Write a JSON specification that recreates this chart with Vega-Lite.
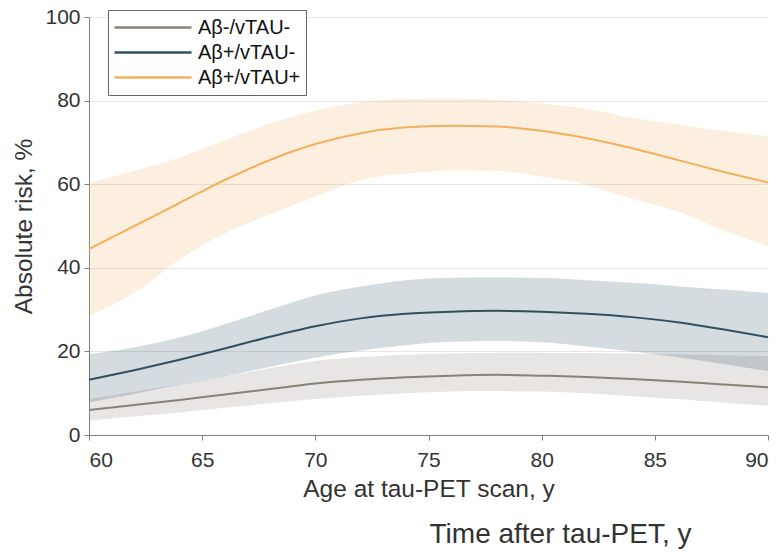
{
  "$schema": "https://vega.github.io/schema/vega-lite/v6.json",
  "width": 679,
  "height": 418,
  "padding": {"left": 11, "top": 6, "right": 0, "bottom": 5},
  "config": {
    "font": "Liberation Sans",
    "view": {"stroke": null},
    "axis": {"labelColor": "#333", "titleColor": "#333", "titleFontWeight": "normal", "labelFontSize": 21, "titleFontSize": 24.5, "domainColor": "#808080", "tickColor": "#808080", "gridColor": "#e6e6e6"}
  },
  "title": {"text": "Time after tau-PET, y", "orient": "bottom", "anchor": "middle", "dx": 132, "offset": 20, "fontSize": 28, "fontWeight": "normal", "color": "#333"},
  "data": {"values": [
    {"age":60,"group":"Aβ-/vTAU-","est":6.0,"lo":3.4,"hi":8.6},
    {"age":62,"group":"Aβ-/vTAU-","est":7.2,"lo":4.4,"hi":10.4},
    {"age":64,"group":"Aβ-/vTAU-","est":8.4,"lo":5.4,"hi":12.1},
    {"age":66,"group":"Aβ-/vTAU-","est":9.7,"lo":6.5,"hi":14.0},
    {"age":68,"group":"Aβ-/vTAU-","est":11.0,"lo":7.6,"hi":16.0},
    {"age":70,"group":"Aβ-/vTAU-","est":12.3,"lo":8.6,"hi":17.7},
    {"age":72,"group":"Aβ-/vTAU-","est":13.2,"lo":9.4,"hi":18.6},
    {"age":74,"group":"Aβ-/vTAU-","est":13.8,"lo":10.0,"hi":19.2},
    {"age":76,"group":"Aβ-/vTAU-","est":14.2,"lo":10.4,"hi":19.5},
    {"age":78,"group":"Aβ-/vTAU-","est":14.4,"lo":10.5,"hi":19.7},
    {"age":80,"group":"Aβ-/vTAU-","est":14.2,"lo":10.4,"hi":19.7},
    {"age":82,"group":"Aβ-/vTAU-","est":13.9,"lo":10.0,"hi":19.6},
    {"age":84,"group":"Aβ-/vTAU-","est":13.4,"lo":9.3,"hi":19.5},
    {"age":86,"group":"Aβ-/vTAU-","est":12.8,"lo":8.6,"hi":19.3},
    {"age":88,"group":"Aβ-/vTAU-","est":12.1,"lo":7.8,"hi":19.1},
    {"age":90,"group":"Aβ-/vTAU-","est":11.4,"lo":7.0,"hi":18.9},
    {"age":60,"group":"Aβ+/vTAU-","est":13.2,"lo":7.8,"hi":19.3},
    {"age":62,"group":"Aβ+/vTAU-","est":15.5,"lo":9.8,"hi":21.0},
    {"age":64,"group":"Aβ+/vTAU-","est":18.0,"lo":12.0,"hi":23.3},
    {"age":66,"group":"Aβ+/vTAU-","est":20.7,"lo":14.0,"hi":26.5},
    {"age":68,"group":"Aβ+/vTAU-","est":23.5,"lo":16.3,"hi":30.0},
    {"age":70,"group":"Aβ+/vTAU-","est":26.0,"lo":18.5,"hi":33.4},
    {"age":72,"group":"Aβ+/vTAU-","est":27.9,"lo":20.2,"hi":35.5},
    {"age":74,"group":"Aβ+/vTAU-","est":29.0,"lo":21.5,"hi":37.0},
    {"age":76,"group":"Aβ+/vTAU-","est":29.5,"lo":22.3,"hi":37.6},
    {"age":78,"group":"Aβ+/vTAU-","est":29.7,"lo":22.5,"hi":37.7},
    {"age":80,"group":"Aβ+/vTAU-","est":29.5,"lo":22.2,"hi":37.6},
    {"age":82,"group":"Aβ+/vTAU-","est":29.0,"lo":21.2,"hi":37.0},
    {"age":84,"group":"Aβ+/vTAU-","est":28.2,"lo":20.0,"hi":36.4},
    {"age":86,"group":"Aβ+/vTAU-","est":27.0,"lo":18.6,"hi":35.6},
    {"age":88,"group":"Aβ+/vTAU-","est":25.3,"lo":17.0,"hi":34.8},
    {"age":90,"group":"Aβ+/vTAU-","est":23.4,"lo":15.3,"hi":34.0},
    {"age":60,"group":"Aβ+/vTAU+","est":44.5,"lo":28.5,"hi":60.3},
    {"age":62,"group":"Aβ+/vTAU+","est":50.0,"lo":34.0,"hi":63.2},
    {"age":64,"group":"Aβ+/vTAU+","est":55.5,"lo":42.0,"hi":66.3},
    {"age":66,"group":"Aβ+/vTAU+","est":61.0,"lo":48.2,"hi":70.5},
    {"age":68,"group":"Aβ+/vTAU+","est":65.8,"lo":52.8,"hi":74.5},
    {"age":70,"group":"Aβ+/vTAU+","est":69.6,"lo":57.0,"hi":77.6},
    {"age":72,"group":"Aβ+/vTAU+","est":72.2,"lo":61.0,"hi":79.6},
    {"age":74,"group":"Aβ+/vTAU+","est":73.6,"lo":62.5,"hi":80.4},
    {"age":76,"group":"Aβ+/vTAU+","est":74.0,"lo":63.3,"hi":80.5},
    {"age":78,"group":"Aβ+/vTAU+","est":73.8,"lo":63.2,"hi":80.2},
    {"age":80,"group":"Aβ+/vTAU+","est":72.8,"lo":61.8,"hi":79.3},
    {"age":82,"group":"Aβ+/vTAU+","est":71.0,"lo":59.8,"hi":78.0},
    {"age":84,"group":"Aβ+/vTAU+","est":68.6,"lo":56.5,"hi":75.9},
    {"age":86,"group":"Aβ+/vTAU+","est":65.8,"lo":53.5,"hi":74.3},
    {"age":88,"group":"Aβ+/vTAU+","est":63.0,"lo":49.0,"hi":72.8},
    {"age":90,"group":"Aβ+/vTAU+","est":60.4,"lo":45.2,"hi":71.5}
  ]},
  "encoding": {
    "x": {"field": "age", "type": "quantitative", "scale": {"domain": [60, 90], "nice": false, "zero": false},
      "axis": {"title": "Age at tau-PET scan, y", "tickCount": 6, "grid": false, "tickSize": 5, "labelPadding": 9, "titlePadding": 7}},
    "color": {"field": "group", "type": "nominal",
      "scale": {"domain": ["Aβ-/vTAU-", "Aβ+/vTAU-", "Aβ+/vTAU+"], "range": ["#8a8178", "#2f5060", "#f2b05e"]},
      "legend": {"title": null, "orient": "none", "legendX": 19, "legendY": -7, "symbolType": "stroke", "symbolSize": 5929, "symbolStrokeWidth": 2.5, "symbolOpacity": 1, "clipHeight": 25, "labelFontSize": 20, "labelColor": "#111", "rowPadding": 0, "padding": 5, "strokeColor": "#666", "fillColor": "white", "labelOffset": 5}}
  },
  "layer": [
    {
      "mark": {"type": "area", "opacity": 0.2, "interpolate": "monotone"},
      "encoding": {
        "y": {"field": "lo", "type": "quantitative", "scale": {"domain": [0, 100], "nice": false},
          "axis": {"title": "Absolute risk, %", "tickCount": 5, "grid": true, "tickSize": 5, "labelPadding": 4, "titlePadding": 8}},
        "y2": {"field": "hi"}
      }
    },
    {
      "mark": {"type": "line", "strokeWidth": 2, "interpolate": "monotone"},
      "encoding": {
        "y": {"field": "est", "type": "quantitative"}
      }
    }
  ]
}
